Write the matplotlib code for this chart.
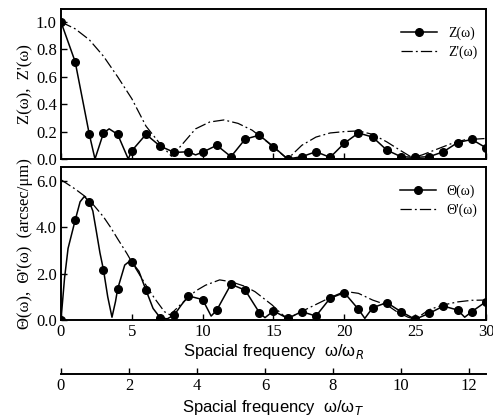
import numpy as np
import matplotlib
matplotlib.use("Agg")
import matplotlib.pyplot as plt

# markers, read at integer omega/omega_R
w_pts = list(range(31))
z_pts = [1.0, 0.71, 0.18, 0.19, 0.18, 0.06, 0.18, 0.094, 0.048, 0.053, 0.05,
         0.10, 0.017, 0.145, 0.174, 0.09, 0.0, 0.017, 0.053, 0.012, 0.115,
         0.19, 0.16, 0.065, 0.017, 0.012, 0.017, 0.053, 0.12, 0.143, 0.082]
th_pts = [0.0, 4.3, 5.1, 2.16, 1.34, 2.49, 1.29, 0.1, 0.22, 1.04, 0.88,
          0.43, 1.54, 1.29, 0.32, 0.39, 0.07, 0.36, 0.17, 0.94, 1.18,
          0.46, 0.53, 0.75, 0.36, 0.03, 0.29, 0.6, 0.43, 0.36, 0.79]

# extra points read on the solid curves between markers (dips / peaks)
z_xw = [2.4, 3.4, 4.75, 9.5]
z_xv = [0.0, 0.22, 0.0, 0.03]
th_xw = [0.25, 0.5, 1.35, 1.65, 2.25, 2.5, 2.75, 3.3, 3.6, 3.85, 4.5, 4.87,
         5.5, 6.5, 7.5, 8.5, 10.6, 14.4, 21.45, 28.5]
th_xv = [1.8, 3.09, 5.1, 5.33, 4.7, 3.81, 2.9, 1.0, 0.12, 0.8, 2.37, 2.55,
         2.1, 0.5, 0.05, 0.65, 0.17, 0.1, 0.07, 0.12]

# dash-dot envelopes
zp_w = [0, 1, 2, 3, 4, 5, 6, 7, 7.8, 8.5, 9.5, 10.5, 11.5, 12.5, 13.5, 14.5,
        15.3, 16, 17, 18, 19, 20, 21, 22, 23, 24, 24.8, 25.5, 26.5, 27.5, 28.5, 30]
zp_v = [1.0, 0.95, 0.87, 0.75, 0.6, 0.44, 0.24, 0.11, 0.02, 0.1, 0.22, 0.27,
        0.285, 0.26, 0.21, 0.13, 0.06, 0.0, 0.1, 0.16, 0.19, 0.2, 0.205, 0.18,
        0.125, 0.06, 0.01, 0.03, 0.07, 0.11, 0.14, 0.15]
thp_w = [0, 1, 1.7, 2, 3, 3.5, 4, 4.64, 5, 6, 6.6, 7.3, 7.7, 8.5, 9.5, 10.2,
         11.2, 12, 13, 13.7, 14.9, 15.5, 16, 17.2, 18.9, 19.9, 20.2, 21, 22, 23,
         23.7, 24.5, 25, 26, 27, 28, 29, 30]
thp_v = [6.05, 5.65, 5.33, 5.18, 4.45, 4.0, 3.5, 2.88, 2.5, 1.5, 0.94, 0.36,
         0.22, 0.7, 1.25, 1.5, 1.73, 1.65, 1.45, 1.22, 0.65, 0.3, 0.05, 0.43,
         0.94, 1.2, 1.22, 1.15, 0.86, 0.65, 0.36, 0.12, 0.03, 0.45, 0.65, 0.78,
         0.85, 0.86]

ratio = 2.4  # omega_R / omega_T

def merged(xa, ya, xb, yb):
    x = np.array(list(xa) + list(xb), dtype=float)
    y = np.array(list(ya) + list(yb), dtype=float)
    o = np.argsort(x)
    return x[o], y[o]

serif = "Liberation Serif"
sans = "Liberation Sans"
dd = (0, (9, 2.5, 1.5, 2.5))

fig = plt.figure(figsize=(4.93, 4.20), dpi=100)
ax1 = fig.add_axes([0.1237, 0.6214, 0.862, 0.357])
ax2 = fig.add_axes([0.1237, 0.2381, 0.862, 0.3643])

# top panel
lx, ly = merged(w_pts, z_pts, z_xw, z_xv)
ax1.plot(lx, ly, color="k", lw=1.1)
ax1.plot(w_pts, z_pts, "o", color="k", ms=5.5)
ax1.plot(zp_w, zp_v, color="k", lw=0.9, linestyle=dd)
h1 = plt.Line2D([], [], color="k", lw=1.1, marker="o", ms=5.5)
h2 = plt.Line2D([], [], color="k", lw=0.9, linestyle=dd)
ax1.legend([h1, h2], ["Z(ω)", "Z'(ω)"], loc="upper right", frameon=False,
           prop={"family": serif, "size": 10}, handlelength=2.6,
           bbox_to_anchor=(1.01, 0.97), labelspacing=0.4)
ax1.set_xlim(0, 30)
ax1.set_ylim(0, 1.094)
ax1.set_yticks([0, 0.2, 0.4, 0.6, 0.8, 1.0])
ax1.set_yticklabels(["0.0", "0.2", "0.4", "0.6", "0.8", "1.0"])
ax1.set_xticks([0, 5, 10, 15, 20, 25, 30])
ax1.tick_params(labelbottom=False)
ax1.set_ylabel("Z(ω),  Z'(ω)", family=serif, fontsize=12, labelpad=2)

# bottom panel
lx, ly = merged(w_pts, th_pts, th_xw, th_xv)
ax2.plot(lx, ly, color="k", lw=1.1)
ax2.plot(w_pts, th_pts, "o", color="k", ms=5.5)
ax2.plot(thp_w, thp_v, color="k", lw=0.9, linestyle=dd)
ax2.legend([h1, h2], ["Θ(ω)", "Θ'(ω)"], loc="upper right", frameon=False,
           prop={"family": serif, "size": 10}, handlelength=2.6,
           bbox_to_anchor=(1.01, 0.97), labelspacing=0.4)
ax2.set_xlim(0, 30)
ax2.set_ylim(0, 6.6)
ax2.set_yticks([0, 2, 4, 6])
ax2.set_yticklabels(["0.0", "2.0", "4.0", "6.0"])
ax2.set_xticks([0, 5, 10, 15, 20, 25, 30])
ax2.set_ylabel("Θ(ω),  Θ'(ω)  (arcsec/μm)", family=serif, fontsize=12, labelpad=2)
ax2.set_xlabel("Spacial frequency  ω/ω$_R$", family=sans, fontsize=12, labelpad=1)

for ax in (ax1, ax2):
    for s in ax.spines.values():
        s.set_linewidth(1.4)
    ax.tick_params(direction="in", length=4, width=1, labelsize=12, pad=3)
    for t in ax.get_xticklabels() + ax.get_yticklabels():
        t.set_family(serif)

sec = ax2.secondary_xaxis(-0.353, functions=(lambda x: x / ratio, lambda x: x * ratio))
sec.set_xticks([0, 2, 4, 6, 8, 10, 12])
sec.spines["bottom"].set_linewidth(1.4)
sec.tick_params(direction="in", length=4, width=1, labelsize=12, pad=3)
for t in sec.get_xticklabels():
    t.set_family(serif)
sec.set_xlabel("Spacial frequency  ω/ω$_T$", family=sans, fontsize=12, labelpad=2.5)

fig.savefig("out.png", dpi=100)
